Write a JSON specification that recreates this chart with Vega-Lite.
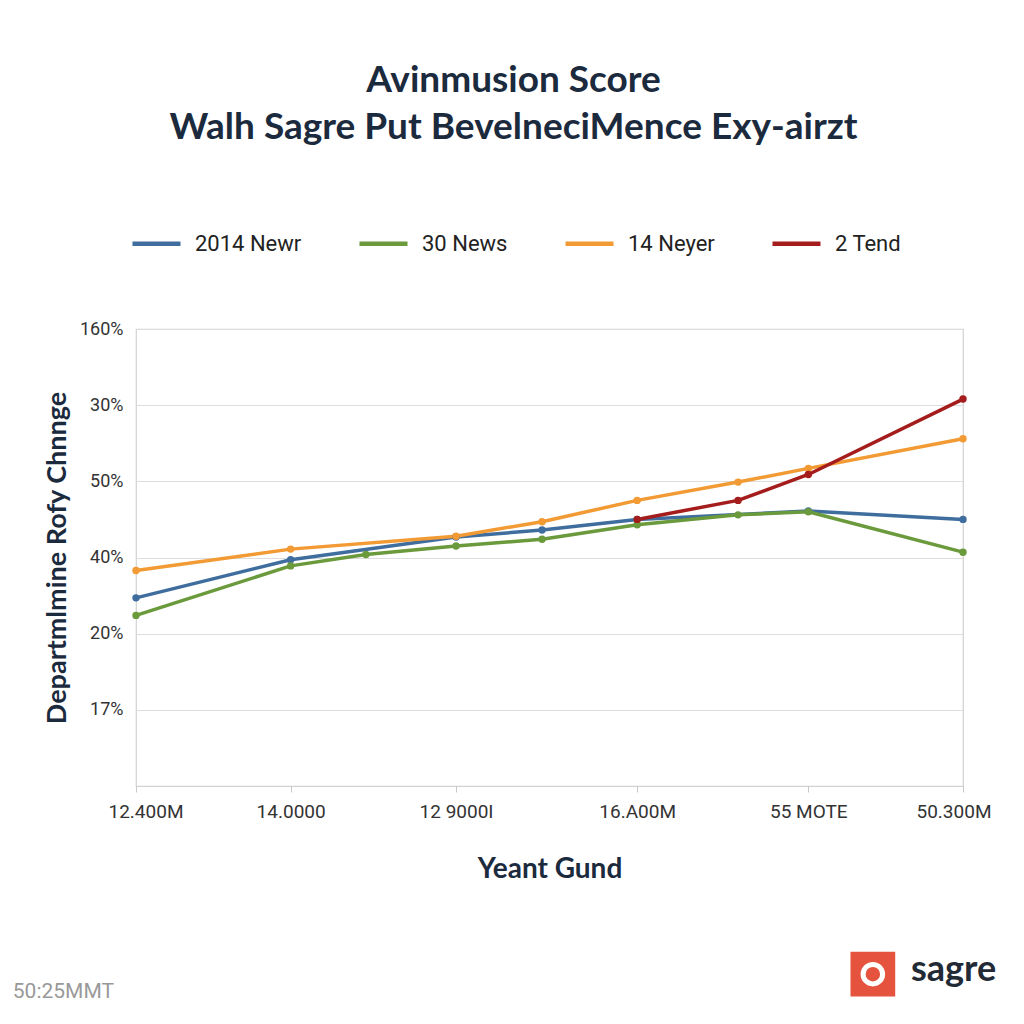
{
  "$schema": "https://vega.github.io/schema/vega-lite/v6.json",
  "width": 827,
  "height": 457,
  "autosize": {"type": "pad"},
  "padding": {"left": 12, "top": 62, "right": 10, "bottom": 10},
  "background": "white",
  "config": {
    "view": {"stroke": "#d2d2d2", "strokeWidth": 1.2},
    "font": "Roboto"
  },
  "title": {
    "text": ["Avinmusion Score", "Walh Sagre Put BevelneciMence Exy-airzt"],
    "font": "Lato",
    "fontSize": 37,
    "fontWeight": "bold",
    "color": "#1b2a3d",
    "lineHeight": 47,
    "anchor": "middle",
    "dx": -36,
    "offset": 70
  },
  "datasets": {
    "series": [
      {"x": 0, "y": 2.47, "series": "2014 Newr"},
      {"x": 18.7, "y": 2.97, "series": "2014 Newr"},
      {"x": 38.7, "y": 3.27, "series": "2014 Newr"},
      {"x": 49.1, "y": 3.36, "series": "2014 Newr"},
      {"x": 60.6, "y": 3.5, "series": "2014 Newr"},
      {"x": 81.3, "y": 3.61, "series": "2014 Newr"},
      {"x": 100, "y": 3.5, "series": "2014 Newr"},
      {"x": 0, "y": 2.24, "series": "30 News"},
      {"x": 18.7, "y": 2.89, "series": "30 News"},
      {"x": 27.8, "y": 3.04, "series": "30 News"},
      {"x": 38.7, "y": 3.15, "series": "30 News"},
      {"x": 49.1, "y": 3.24, "series": "30 News"},
      {"x": 60.6, "y": 3.43, "series": "30 News"},
      {"x": 72.8, "y": 3.56, "series": "30 News"},
      {"x": 81.3, "y": 3.6, "series": "30 News"},
      {"x": 100, "y": 3.07, "series": "30 News"},
      {"x": 0, "y": 2.83, "series": "14 Neyer"},
      {"x": 18.7, "y": 3.11, "series": "14 Neyer"},
      {"x": 38.7, "y": 3.28, "series": "14 Neyer"},
      {"x": 49.1, "y": 3.47, "series": "14 Neyer"},
      {"x": 60.6, "y": 3.75, "series": "14 Neyer"},
      {"x": 72.8, "y": 3.99, "series": "14 Neyer"},
      {"x": 81.3, "y": 4.17, "series": "14 Neyer"},
      {"x": 100, "y": 4.56, "series": "14 Neyer"},
      {"x": 60.6, "y": 3.5, "series": "2 Tend"},
      {"x": 72.8, "y": 3.75, "series": "2 Tend"},
      {"x": 81.3, "y": 4.09, "series": "2 Tend"},
      {"x": 100, "y": 5.08, "series": "2 Tend"}
    ],
    "notes": [
      {"label": "50:25MMT"}
    ]
  },
  "layer": [
    {
      "data": {"name": "series"},
      "mark": {"type": "line", "strokeWidth": 3.5, "strokeCap": "round", "strokeJoin": "round"},
      "encoding": {
        "x": {
          "field": "x",
          "type": "quantitative",
          "scale": {"domain": [0, 100], "nice": false, "zero": false},
          "axis": {
            "values": [0, 18.7, 38.7, 60.6, 81.3, 100],
            "labelExpr": "datum.value == 0 ? '12.400M' : datum.value == 18.7 ? '14.0000' : datum.value == 38.7 ? '12 9000I' : datum.value == 60.6 ? '16.A00M' : datum.value == 81.3 ? '55 MOTE' : '50.300M'",
            "grid": false,
            "domain": false,
            "tickColor": "#c8c8c8",
            "tickSize": 6,
            "labelFont": "Roboto",
            "labelFontSize": 19,
            "labelColor": "#333333",
            "labelPadding": 10,
            "labelFlush": true,
            "labelFlushOffset": 28,
            "title": "Yeant Gund",
            "titleFont": "Lato",
            "titleFontSize": 28,
            "titleFontWeight": "bold",
            "titleColor": "#1b2a3d",
            "titlePadding": 34
          }
        },
        "y": {
          "field": "y",
          "type": "quantitative",
          "scale": {"domain": [0, 6], "nice": false, "zero": false},
          "axis": {
            "values": [1, 2, 3, 4, 5, 6],
            "labelExpr": "datum.value == 1 ? '17%' : datum.value == 2 ? '20%' : datum.value == 3 ? '40%' : datum.value == 4 ? '50%' : datum.value == 5 ? '30%' : '160%'",
            "grid": true,
            "gridColor": "#dddddd",
            "gridWidth": 1.2,
            "domain": false,
            "ticks": false,
            "labelFont": "Roboto",
            "labelFontSize": 18,
            "labelColor": "#333333",
            "labelPadding": 13,
            "title": "Departmlmine Rofy Chnnge",
            "titleFont": "Lato",
            "titleFontSize": 27,
            "titleFontWeight": "bold",
            "titleColor": "#1b2a3d",
            "titlePadding": 8
          }
        },
        "color": {
          "field": "series",
          "type": "nominal",
          "scale": {
            "domain": ["2014 Newr", "30 News", "14 Neyer", "2 Tend"],
            "range": ["#3f6e9e", "#6a9a3b", "#f29a33", "#a51c1c"]
          },
          "legend": {
            "orient": "none",
            "legendX": -6,
            "legendY": -112,
            "direction": "horizontal",
            "title": null,
            "symbolType": "stroke",
            "symbolSize": 2304,
            "symbolStrokeWidth": 4.5,
            "labelFont": "Roboto",
            "labelFontSize": 22,
            "labelColor": "#222222",
            "labelOffset": 12,
            "columnPadding": 48
          }
        }
      }
    },
    {
      "data": {"name": "series"},
      "mark": {"type": "circle", "size": 55, "opacity": 1},
      "encoding": {
        "x": {"field": "x", "type": "quantitative"},
        "y": {"field": "y", "type": "quantitative"},
        "color": {"field": "series", "type": "nominal"}
      }
    },
    {
      "data": {"name": "notes"},
      "mark": {"type": "text", "align": "left", "baseline": "middle", "fontSize": 21, "font": "Roboto", "color": "#999999"},
      "encoding": {
        "x": {"datum": -14.9, "type": "quantitative"},
        "y": {"datum": -2.71, "type": "quantitative"},
        "text": {"field": "label"}
      }
    },
    {
      "data": {"values": [{"brand": "sagre"}]},
      "mark": {"type": "point", "shape": "square", "filled": true, "size": 2000, "color": "#e5523d", "opacity": 1},
      "encoding": {
        "x": {"datum": 89.1, "type": "quantitative"},
        "y": {"datum": -2.47, "type": "quantitative"}
      }
    },
    {
      "data": {"values": [{"brand": "sagre"}]},
      "mark": {"type": "point", "shape": "circle", "filled": false, "size": 380, "stroke": "white", "strokeWidth": 5, "opacity": 1},
      "encoding": {
        "x": {"datum": 89.1, "type": "quantitative"},
        "y": {"datum": -2.47, "type": "quantitative"}
      }
    },
    {
      "data": {"values": [{"brand": "sagre"}]},
      "mark": {"type": "text", "align": "left", "baseline": "middle", "fontSize": 36, "font": "Lato", "fontWeight": "bold", "color": "#222a35"},
      "encoding": {
        "x": {"datum": 93.7, "type": "quantitative"},
        "y": {"datum": -2.42, "type": "quantitative"},
        "text": {"field": "brand"}
      }
    }
  ]
}
